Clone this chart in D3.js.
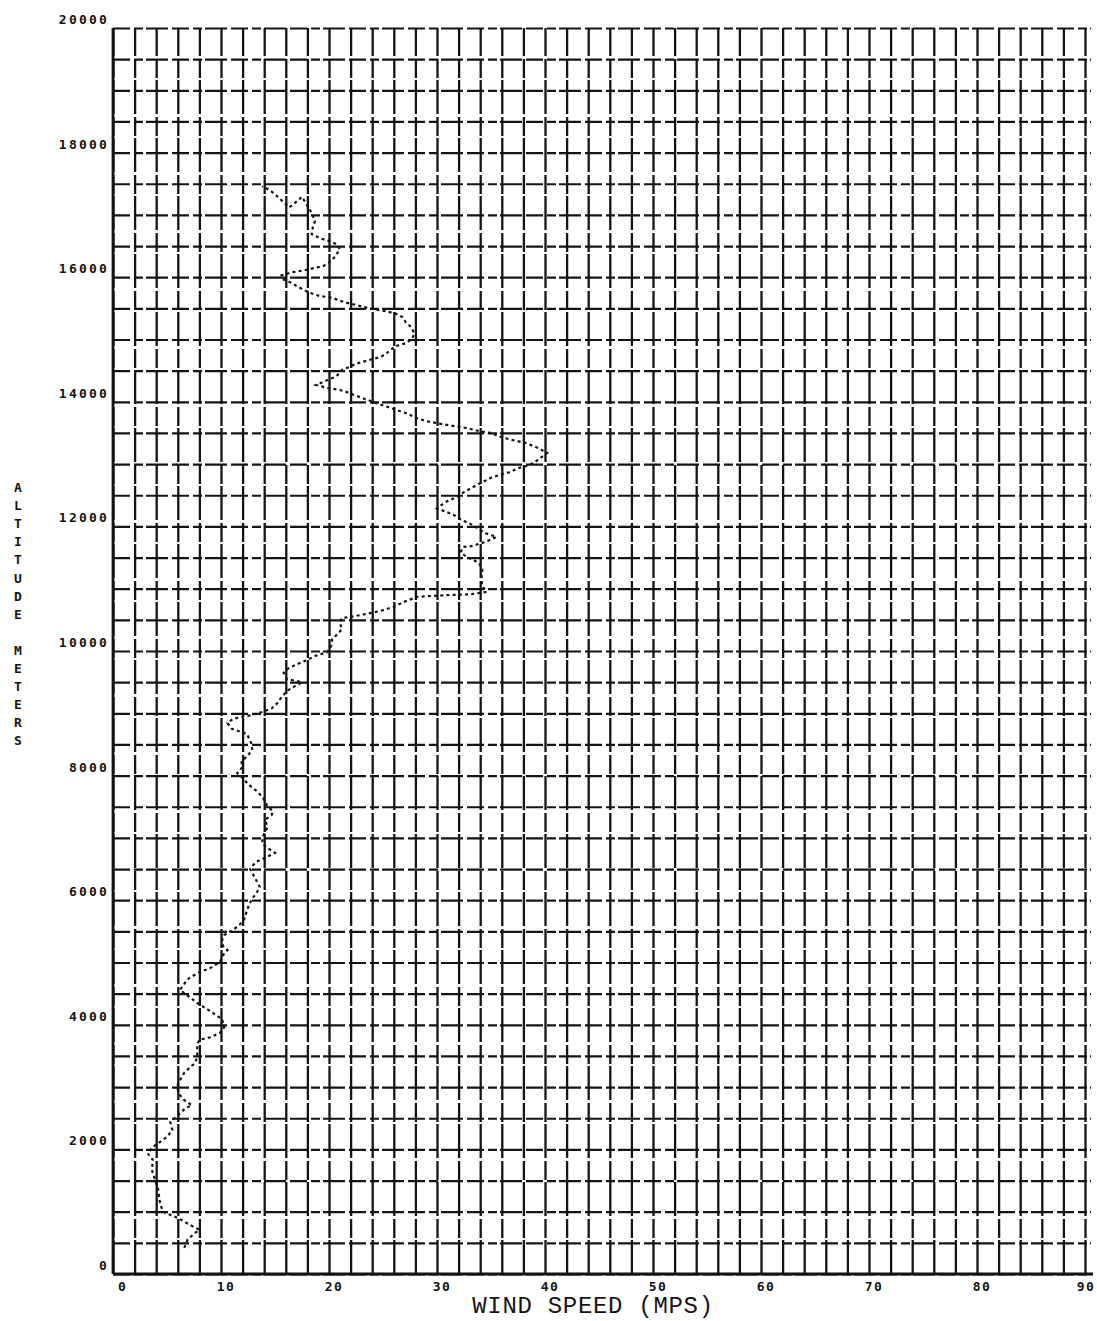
<!DOCTYPE html>
<html>
<head>
<meta charset="utf-8">
<title>Wind Speed Profile</title>
<script src="https://cdn.jsdelivr.net/npm/d3@7"></script>
<style>
  html, body { margin: 0; padding: 0; background: #fff; }
  svg { display: block; }
</style>
</head>
<body>
<svg id="chart" width="1097" height="1321"></svg>
<script>
// Sounding profile: altitude (m) and wind speed (m/s), listed in plotting order
const altitudeM = [
  420, 550, 630, 710, 790, 900, 950, 1000, 1190, 1350,
  1510, 1670, 1830, 1940, 2040, 2100, 2200, 2310, 2440, 2500,
  2580, 2660, 2710, 2790, 2870, 3000, 3110, 3230, 3310, 3390,
  3480, 3600, 3680, 3760, 3800, 3870, 3960, 4090, 4220, 4350,
  4560, 4730, 4830, 4910, 5010, 5150, 5200, 5260, 5360, 5440,
  5510, 5600, 5710, 5840, 6000, 6120, 6210, 6340, 6500, 6610,
  6690, 6760, 6850, 6920, 7030, 7170, 7290, 7370, 7430, 7510,
  7640, 7740, 7850, 7980, 8040, 8140, 8220, 8310, 8410, 8520,
  8670, 8750, 8840, 8910, 8940, 8970, 9020, 9080, 9160, 9260,
  9370, 9440, 9500, 9550, 9650, 9730, 9790, 9850, 9920, 9980,
  10080, 10190, 10290, 10350, 10450, 10530, 10550, 10590, 10640, 10710,
  10800, 10870, 10880, 10900, 10910, 10950, 11040, 11150, 11300, 11410,
  11460, 11510, 11590, 11670, 11680, 11750, 11830, 11890, 11960, 12050,
  12100, 12180, 12230, 12290, 12390, 12470, 12550, 12620, 12700, 12780,
  12820, 12870, 12940, 12980, 13050, 13180, 13270, 13340, 13390, 13430,
  13500, 13530, 13580, 13610, 13640, 13690, 13740, 13820, 13870, 13920,
  13960, 14010, 14060, 14110, 14160, 14190, 14220, 14270, 14330, 14410,
  14510, 14560, 14610, 14670, 14720, 14800, 14890, 14940, 15010, 15100,
  15200, 15280, 15360, 15420, 15460, 15500, 15550, 15600, 15670, 15700,
  15750, 15830, 15910, 15970, 16030, 16080, 16110, 16150, 16180, 16260,
  16340, 16450, 16530, 16580, 16630, 16690, 16800, 16900, 17030, 17290,
  17170, 17120, 17300, 17400, 17460
];
const windSpeed = [
  6.6, 6.9, 7.4, 8.0, 7.1, 6.0, 5.3, 4.6, 4.3, 4.2,
  3.9, 3.6, 3.7, 3.2, 3.7, 4.2, 5.0, 5.5, 5.3, 5.7,
  6.2, 6.7, 7.3, 6.6, 6.2, 5.9, 6.2, 6.6, 7.1, 7.6,
  7.8, 7.8, 7.8, 8.0, 9.0, 9.9, 10.3, 10.1, 9.0, 7.8,
  6.2, 6.9, 7.8, 9.0, 9.9, 10.3, 10.6, 10.2, 10.1, 10.3,
  11.0, 11.7, 12.2, 12.4, 12.8, 13.3, 13.6, 13.2, 12.7, 13.2,
  14.2, 15.0, 14.2, 13.8, 13.9, 14.3, 14.1, 14.7, 14.8, 14.3,
  13.9, 13.4, 12.6, 11.9, 11.5, 12.0, 11.9, 12.4, 12.9, 12.8,
  12.4, 11.0, 10.6, 11.1, 11.9, 12.8, 13.8, 14.7, 15.2, 15.6,
  16.2, 16.9, 17.5, 16.1, 15.8, 16.3, 17.1, 17.9, 18.7, 19.8,
  20.2, 20.3, 20.9, 21.2, 21.0, 21.2, 22.1, 23.3, 24.7, 26.0,
  27.1, 28.2, 29.1, 31.3, 33.1, 34.6, 34.2, 34.1, 34.2, 33.9,
  33.4, 32.7, 32.2, 32.4, 33.1, 34.5, 35.5, 34.5, 33.9, 33.0,
  32.3, 31.6, 30.9, 30.0, 30.8, 31.8, 32.5, 33.2, 34.1, 35.0,
  35.7, 36.7, 37.6, 38.5, 39.2, 40.2, 39.2, 38.2, 36.9, 36.0,
  35.0, 33.9, 32.7, 31.6, 30.5, 29.0, 28.1, 27.1, 26.2, 25.4,
  24.7, 23.9, 23.1, 22.3, 21.6, 21.0, 19.9, 18.8, 19.6, 20.7,
  21.2, 21.9, 22.5, 23.7, 24.8, 25.5, 26.1, 27.1, 27.7, 27.9,
  27.6, 27.1, 26.8, 26.1, 25.1, 23.7, 22.6, 21.4, 20.3, 19.1,
  18.2, 17.3, 16.5, 15.7, 15.6, 16.6, 17.7, 18.7, 19.5, 20.2,
  20.6, 21.0, 20.7, 20.0, 19.1, 18.4, 18.5, 18.7, 18.4, 17.5,
  16.7, 16.3, 15.2, 14.5, 13.8
];

// Axis tick values and labels
const speedTicks = [0, 10, 20, 30, 40, 50, 60, 70, 80, 90];
const altitudeTicks = [0, 2000, 4000, 6000, 8000, 10000, 12000, 14000, 16000, 18000, 20000];
const speedGridStep = 2;
const altitudeGridStep = 500;
const xTitle = "WIND SPEED (MPS)";
const yTitle = "ALTITUDE METERS";

const svg = d3.select("#chart");
const plotLeft = 113, plotRight = 1085, plotTop = 28, plotBottom = 1274;

const x = d3.scaleLinear().domain([0, 90]).range([plotLeft, plotRight]);
const y = d3.scaleLinear().domain([0, 20000]).range([plotBottom, plotTop]);

const ink = "#141414";
const tickFont = "'DejaVu Sans Mono', monospace";

// Vertical grid (every 2 m/s) with labels every 10
const xAxis = d3.axisBottom(x)
  .tickValues(d3.range(0, 90 + 0.001, speedGridStep))
  .tickSize(-(plotBottom - plotTop))
  .tickSizeOuter(0)
  .tickFormat(d => speedTicks.includes(d) ? String(d) : "");

const gx = svg.append("g")
  .attr("transform", `translate(0,${plotBottom})`)
  .call(xAxis);
gx.select(".domain").remove();
gx.selectAll(".tick line")
  .attr("stroke", ink)
  .attr("stroke-width", 2.3)
  .attr("stroke-dasharray", "34,2,19,3");
gx.selectAll(".tick text")
  .attr("font-family", tickFont)
  .attr("font-weight", "bold")
  .attr("font-size", 13)
  .attr("letter-spacing", 1.6)
  .attr("fill", ink)
  .attr("text-anchor", "end")
  .attr("x", d => d === 90 ? 10 : 14)
  .attr("y", 16.5)
  .attr("dy", 0);

// Horizontal grid (every 500 m) with labels every 2000
const yAxis = d3.axisLeft(y)
  .tickValues(d3.range(0, 20000 + 1, altitudeGridStep))
  .tickSize(-(plotRight - plotLeft + 6))
  .tickSizeOuter(0)
  .tickFormat(d => altitudeTicks.includes(d) ? String(d) : "");

const gy = svg.append("g")
  .attr("transform", `translate(${plotLeft},0)`)
  .call(yAxis);
gy.select(".domain").remove();
gy.selectAll(".tick line")
  .attr("stroke", ink)
  .attr("stroke-width", 2.2)
  .attr("stroke-dasharray", "17,4,9,3,22,4");
gy.selectAll(".tick text")
  .attr("font-family", tickFont)
  .attr("font-weight", "bold")
  .attr("font-size", 13)
  .attr("letter-spacing", 2.2)
  .attr("fill", ink)
  .attr("text-anchor", "end")
  .attr("x", -4)
  .attr("dy", -4.5);

// Solid frame lines along the left and bottom
svg.append("line")
  .attr("x1", x(0)).attr("x2", x(0))
  .attr("y1", y(20000)).attr("y2", y(0))
  .attr("stroke", ink).attr("stroke-width", 2.8);
svg.append("line")
  .attr("x1", x(0)).attr("x2", x(90) + 8)
  .attr("y1", y(0)).attr("y2", y(0))
  .attr("stroke", ink).attr("stroke-width", 2.8);

// Wind profile trace
const profile = altitudeM.map((a, i) => ({ alt: a, spd: windSpeed[i] }));
const line = d3.line()
  .x(d => x(d.spd))
  .y(d => y(d.alt));

svg.append("path")
  .datum(profile)
  .attr("d", line)
  .attr("fill", "none")
  .attr("stroke", ink)
  .attr("stroke-width", 2.2)
  .attr("stroke-dasharray", "3,3.2");

// X axis title
svg.append("text")
  .attr("x", 593)
  .attr("y", 1313)
  .attr("text-anchor", "middle")
  .attr("font-family", "'Liberation Mono', 'Courier New', monospace")
  .attr("font-size", 24)
  .attr("letter-spacing", 0.7)
  .attr("fill", ink)
  .text(xTitle);

// Y axis title, letters stacked vertically
const yTitleG = svg.append("text")
  .attr("font-family", tickFont)
  .attr("font-weight", "bold")
  .attr("font-size", 13)
  .attr("fill", ink)
  .attr("text-anchor", "middle");
yTitle.split("").forEach((ch, i) => {
  yTitleG.append("tspan")
    .attr("x", 18)
    .attr("y", 492 + i * 18.1)
    .text(ch === " " ? "\u00a0" : ch);
});
</script>
</body>
</html>
